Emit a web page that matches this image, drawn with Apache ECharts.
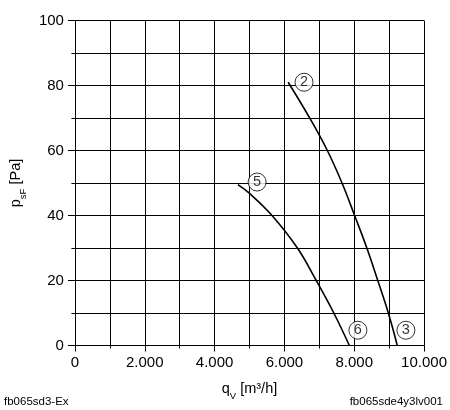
<!DOCTYPE html>
<html>
<head>
<meta charset="utf-8">
<script src="https://cdn.jsdelivr.net/npm/echarts@6/dist/echarts.min.js"></script>
<style>html,body{margin:0;padding:0;background:#fff}#c{width:450px;height:410px}</style>
</head>
<body>
<div id="c"></div>
<script>
// Curve data [qV m³/h, psF Pa]
var curve2_3 = [[6108,81],[6724,70],[7230,60],[7650,50],[8011,40],[8361,30],[8674,20],[8977,10],[9233,0]];
var curve5_6 = [[4668,49.5],[5000,46.8],[5645,40],[6372,30],[6912,20],[7415,10],[7860,0]];
// Circled curve markers [q, p, label]
var markers = [[6562,81,'2'],[5218,50.3,'5'],[8105,4.7,'6'],[9480,4.7,'3']];
var xTicks = {min:0, max:10000, labelStep:2000, gridStep:1000};
var yTicks = {min:0, max:100, labelStep:20, gridStep:10};
var footLeft = 'fb065sd3-Ex';
var footRight = 'fb065sde4y3lv001';

function fmtThousands(v){
  var s = String(Math.round(v));
  return s.replace(/\B(?=(\d{3})+(?!\d))/g, '.');
}
var font = 'Liberation Sans, Arial, sans-serif';
var chart = echarts.init(document.getElementById('c'));
var lineCommon = {type:'line', smooth:0.4, showSymbol:false, symbol:'none', lineStyle:{color:'#000', width:1.6}, silent:true, z:3};
var richName = {
  n:{fontSize:14.5, fontFamily:font, color:'#000', verticalAlign:'top', lineHeight:16},
  s:{fontSize:9.5, fontFamily:font, color:'#000', verticalAlign:'bottom', lineHeight:20}
};
chart.setOption({
  animation:false,
  backgroundColor:'#fff',
  grid:{left:74, right:24, top:20.5, bottom:64.5, containLabel:false},
  xAxis:{
    type:'value', min:xTicks.min, max:xTicks.max, interval:xTicks.labelStep,
    axisLine:{lineStyle:{color:'#000', width:1}},
    axisTick:{show:true, length:6, lineStyle:{color:'#000'}},
    minorTick:{show:true, splitNumber:xTicks.labelStep / xTicks.gridStep, length:3, lineStyle:{color:'#000'}},
    splitLine:{show:true, lineStyle:{color:'#000', width:1}},
    minorSplitLine:{show:true, lineStyle:{color:'#000', width:1}},
    axisLabel:{margin:10, color:'#000', fontSize:15, fontFamily:font,
      formatter:function(v){ return fmtThousands(v); }},
    name:'{n|q}{s|V}{n| [m³/h]}', nameLocation:'middle', nameGap:36,
    nameTextStyle:{rich:richName}
  },
  yAxis:{
    type:'value', min:yTicks.min, max:yTicks.max, interval:yTicks.labelStep,
    axisLine:{show:true, lineStyle:{color:'#000', width:1}},
    axisTick:{show:true, length:7, lineStyle:{color:'#000'}},
    minorTick:{show:true, splitNumber:yTicks.labelStep / yTicks.gridStep, length:3.5, lineStyle:{color:'#000'}},
    splitLine:{show:true, lineStyle:{color:'#000', width:1}},
    minorSplitLine:{show:true, lineStyle:{color:'#000', width:1}},
    axisLabel:{margin:11, color:'#000', fontSize:15, fontFamily:font},
    name:'{n|p}{s|sF}{n| [Pa]}', nameLocation:'middle', nameGap:40, nameRotate:90,
    nameTextStyle:{rich:richName}
  },
  series:[
    Object.assign({data:curve2_3}, lineCommon),
    Object.assign({data:curve5_6}, lineCommon),
    {
      type:'scatter', z:5, silent:true,
      data:markers.map(function(m){ return {value:[m[0], m[1]], name:m[2]}; }),
      symbol:'circle', symbolSize:18,
      itemStyle:{color:'#fff', borderColor:'#000', borderWidth:1},
      label:{show:true, position:'inside', formatter:'{b}', color:'#000', fontSize:14.5, fontFamily:font}
    }
  ],
  graphic:[
    {type:'text', left:4, top:396, style:{text:footLeft, font:'11.5px ' + font, fill:'#000'}},
    {type:'text', right:7, top:396, style:{text:footRight, font:'11.5px ' + font, fill:'#000'}}
  ]
});
</script>
</body>
</html>
